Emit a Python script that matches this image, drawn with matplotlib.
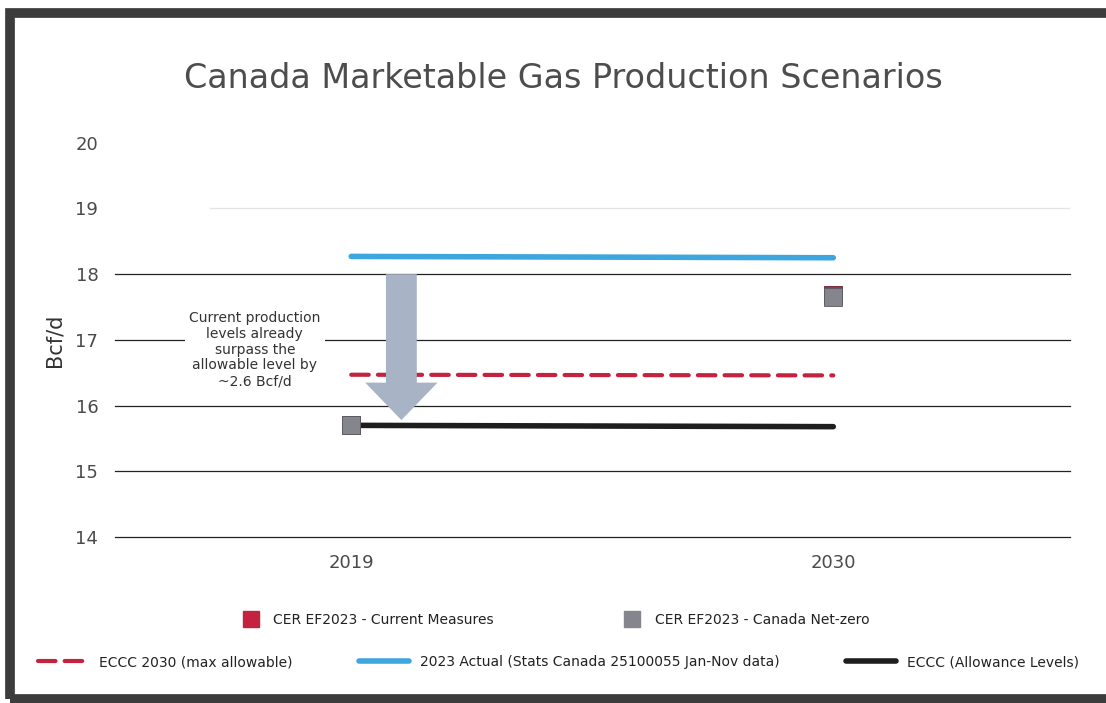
import matplotlib.pyplot as plt
import matplotlib.patches as patches
from matplotlib.lines import Line2D

plt.rcParams['font.family'] = ['DejaVu Sans']

years = ['2019', '2030']
actual_2023 = [18.27, 18.25]
eccc_2030_max = [16.47, 16.46]
eccc_allowance = [15.70, 15.68]
cer_current = [15.70, 17.68]
cer_netzero = [15.70, 17.65]
yticks = [14, 15, 16, 17, 18, 19, 20]
note = 'Current production\nlevels already\nsurpass the\nallowable level by\n~2.6 Bcf/d'

red = '#c3233f'
blue = '#3ea6de'
grey = '#85858d'

fig = plt.figure(figsize=(11.06, 7.03), dpi=100)
ax = fig.add_axes([0.104, 0.236, 0.863, 0.561])

x = list(range(len(years)))

# horizontal rules, lighter one at 19, none at 20
for v in yticks[:-2]:
    ax.axhline(v, color='#222222', lw=0.9, zorder=1, clip_on=False)
ax.axhline(yticks[-2], xmin=0.1, color='#e4e4e8', lw=0.9, zorder=1)

l_dash, = ax.plot(x, eccc_2030_max, color=red, lw=3, ls=(0, (4.2, 2.2)),
                  solid_capstyle='round', dash_capstyle='round', zorder=3)
l_blue, = ax.plot(x, actual_2023, color=blue, lw=4, solid_capstyle='round', zorder=3)
l_black, = ax.plot(x, eccc_allowance, color='#1e1e1e', lw=4,
                   solid_capstyle='round', zorder=3)
m_red, = ax.plot(x, cer_current, 's', color=red, ms=13, mec='#6a2030', mew=0.6,
                 ls='none', zorder=4)
m_grey, = ax.plot(x, cer_netzero, 's', color=grey, ms=13, mec='#5a5a62', mew=0.6,
                  ls='none', zorder=5)

# downward arrow from the 2023 level to the allowance level
top = 18.0
tip = 15.78
arrow = patches.FancyArrow(0.104, top, 0, tip - top, width=0.064,
                           head_width=0.15, head_length=0.57,
                           length_includes_head=True, color='#a9b3c6',
                           lw=0, zorder=6)
ax.add_patch(arrow)

ax.text(-0.2, 16.85, note, ha='center', va='center', fontsize=10,
        color='#333333', linespacing=1.15, zorder=7,
        bbox=dict(facecolor='white', edgecolor='none', pad=3))

ax.set_xlim(-0.49, 1.49)
ax.set_ylim(14, 20)
ax.set_yticks(yticks)
ax.set_xticks(x)
ax.set_xticklabels(years)
ax.tick_params(length=0, labelsize=13, labelcolor='#4a4a4a')
ax.tick_params(axis='y', pad=12)
ax.tick_params(axis='x', pad=12)
for s in ax.spines.values():
    s.set_visible(False)
ax.set_ylabel('Bcf/d', fontsize=15, color='#333333', labelpad=8)

fig.text(0.509, 0.889, 'Canada Marketable Gas Production Scenarios',
         ha='center', va='center', fontsize=24, color='#4d4d4d')

# legend rows
sq_red = Line2D([], [], marker='s', color=red, ms=12, ls='none')
sq_grey = Line2D([], [], marker='s', color=grey, ms=12, ls='none')
leg1 = fig.legend([sq_red, sq_grey],
                  ['CER EF2023 - Current Measures', 'CER EF2023 - Canada Net-zero'],
                  loc='center', bbox_to_anchor=(0.5, 0.118), ncol=2,
                  frameon=False, fontsize=10, columnspacing=9, handletextpad=0.6)
leg2 = fig.legend([l_dash, l_blue, l_black],
                  ['ECCC 2030 (max allowable)',
                   '2023 Actual (Stats Canada 25100055 Jan-Nov data)',
                   'ECCC (Allowance Levels)'],
                  loc='center', bbox_to_anchor=(0.505, 0.058), ncol=3,
                  frameon=False, fontsize=10, columnspacing=4.8,
                  handlelength=3.6, handletextpad=0.8)
for t in leg1.get_texts() + leg2.get_texts():
    t.set_color('#222222')

# dark frame around the page
fig.add_artist(patches.Rectangle((0.009, 0.005), 1.2, 0.977, transform=fig.transFigure,
                                 fill=False, edgecolor='#3c3c3c', lw=7))

fig.savefig('out.png', dpi=100)
